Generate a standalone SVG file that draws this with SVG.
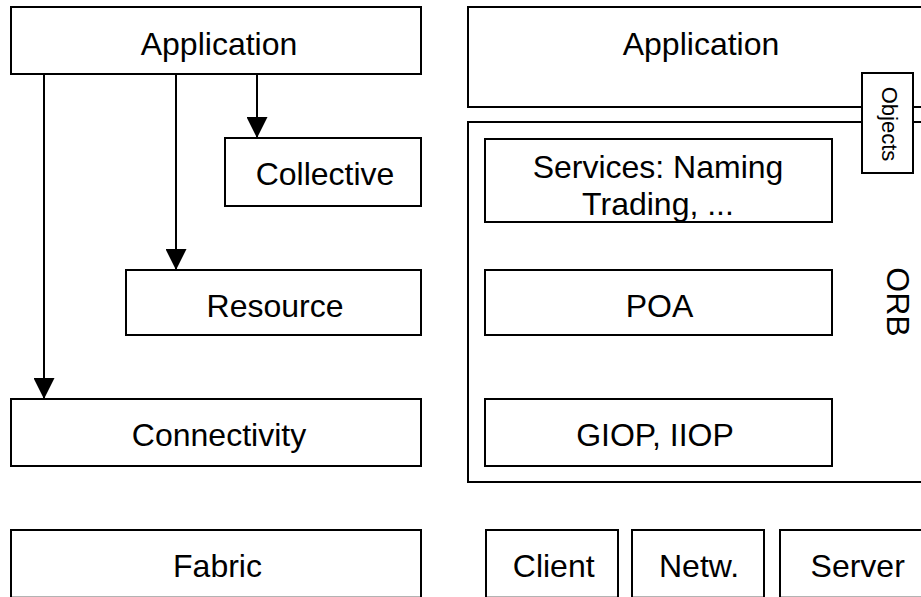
<svg xmlns="http://www.w3.org/2000/svg" width="921" height="597" viewBox="0 0 921 597">
<style>
.b{fill:#fff;stroke:#000;stroke-width:2}
.t{font-family:"Liberation Sans",Arial,sans-serif;font-size:32px;fill:#000;text-anchor:middle}
.s{font-size:22px}
.c{stroke:#000;stroke-width:2;fill:none}
</style>
<defs>
<marker id="ah" markerUnits="userSpaceOnUse" markerWidth="22" markerHeight="21" refX="21" refY="10.5" orient="auto" viewBox="0 0 21 21">
<path d="M0,0 L21,10.5 L0,21 z" fill="#000"/>
</marker>
</defs>
<rect width="921" height="597" fill="#fff"/>
<g id="app-left"><rect class="b" x="11" y="7" width="410" height="67"/><text class="t" x="219" y="55">Application</text></g>
<g id="collective"><rect class="b" x="225" y="138" width="196" height="68"/><text class="t" x="325" y="185">Collective</text></g>
<g id="resource"><rect class="b" x="126" y="270" width="295" height="65"/><text class="t" x="275" y="317">Resource</text></g>
<g id="connectivity"><rect class="b" x="11" y="399" width="410" height="67"/><text class="t" x="219" y="446">Connectivity</text></g>
<g id="fabric"><rect class="b" x="11" y="530" width="410" height="67.7"/><text class="t" x="217.5" y="577">Fabric</text></g>
<g id="app-right"><rect class="b" x="468" y="7" width="466" height="100"/><text class="t" x="701" y="55">Application</text></g>
<g id="orb"><rect class="b" x="468" y="122" width="466" height="360"/><text class="t" transform="translate(887,302) rotate(90)" x="0" y="0">ORB</text></g>
<g id="objects"><rect class="b" x="862" y="73" width="51" height="100"/><text class="t s" transform="translate(882,124) rotate(90)" x="0" y="0">Objects</text></g>
<g id="services"><rect class="b" x="485" y="139" width="347" height="83"/><text class="t" x="658" y="178">Services: Naming</text><text class="t" x="658" y="215">Trading, ...</text></g>
<g id="poa"><rect class="b" x="485" y="270" width="347" height="65"/><text class="t" x="659.5" y="317">POA</text></g>
<g id="giop"><rect class="b" x="485" y="399" width="347" height="67"/><text class="t" x="655" y="446">GIOP, IIOP</text></g>
<g id="client"><rect class="b" x="486" y="530" width="132" height="67.7"/><text class="t" x="553.7" y="577">Client</text></g>
<g id="netw"><rect class="b" x="632" y="530" width="132" height="67.7"/><text class="t" x="699" y="577">Netw.</text></g>
<g id="server"><rect class="b" x="780" y="530" width="156" height="67.7"/><text class="t" x="857.7" y="577">Server</text></g>
<g id="connectors">
<line class="c" x1="44" y1="74" x2="44" y2="399" marker-end="url(#ah)"/>
<line class="c" x1="176" y1="74" x2="176" y2="270" marker-end="url(#ah)"/>
<line class="c" x1="257" y1="74" x2="257" y2="138" marker-end="url(#ah)"/>
</g>
</svg>
